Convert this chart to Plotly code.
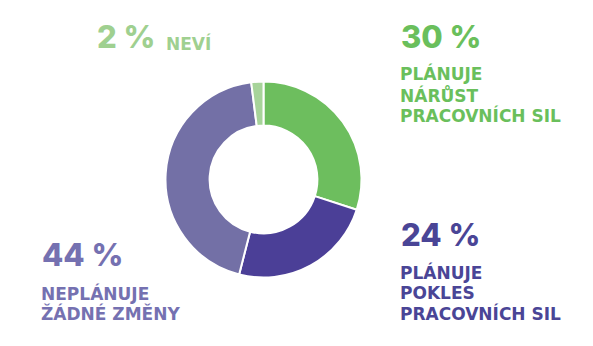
import plotly.graph_objects as go

# Survey shares, in clockwise order from 12 o'clock
labels = ["Plánuje nárůst pracovních sil", "Plánuje pokles pracovních sil",
          "Neplánuje žádné změny", "Neví"]
values = [30, 24, 44, 2]
slice_colors = ["#6dbe5e", "#4b3f97", "#7370a6", "#a7d49a"]

W, H = 593, 346
cx, cy, r = 263.5, 179.5, 98

fig = go.Figure(go.Pie(
    labels=labels,
    values=values,
    sort=False,
    direction="clockwise",
    hole=0.55,
    textinfo="none",
    hoverinfo="label+percent",
    marker=dict(colors=slice_colors, line=dict(color="white", width=2)),
    domain=dict(x=[(cx - r) / W, (cx + r) / W],
                y=[1 - (cy + r) / H, 1 - (cy - r) / H]),
    showlegend=False,
))

NUM_FONT = "Inter"
LABEL_FONT = "DejaVu Sans"

def px_text(x, y, text, size, color, family, weight=700):
    fig.add_annotation(
        x=x / W, y=1 - y / H, xref="paper", yref="paper",
        xanchor="left", yanchor="middle", showarrow=False,
        text=text, borderpad=0,
        font=dict(family=family, size=size, color=color, weight=weight),
    )

big = 31
small = 17
step = 20.5

def block(x, y_num, y_first, value, lines, color):
    px_text(x + 1, y_num, f"{value} %", big, color, NUM_FONT, 800)
    for i, line in enumerate(lines):
        px_text(x, y_first + step * i, line, small, color, LABEL_FONT)

# 30 % – growth
block(399, 37, 74, values[0], ["PLÁNUJE", "NÁRŮST", "PRACOVNÍCH SIL"], "#6abf5c")
# 24 % – decline
block(399, 234, 272, values[1], ["PLÁNUJE", "POKLES", "PRACOVNÍCH SIL"], "#4a4596")
# 44 % – no change
block(40, 254, 293, values[2], ["NEPLÁNUJE", "ŽÁDNÉ ZMĚNY"], "#7571b1")

# 2 % – don't know
light = "#9fd090"
px_text(96, 37, f"{values[3]} %", big, light, NUM_FONT, 800)
px_text(165, 43, "NEVÍ", small, light, LABEL_FONT)

fig.update_layout(
    width=W, height=H,
    margin=dict(l=0, r=0, t=0, b=0),
    paper_bgcolor="white",
    plot_bgcolor="white",
)

fig.write_html("out.html")
